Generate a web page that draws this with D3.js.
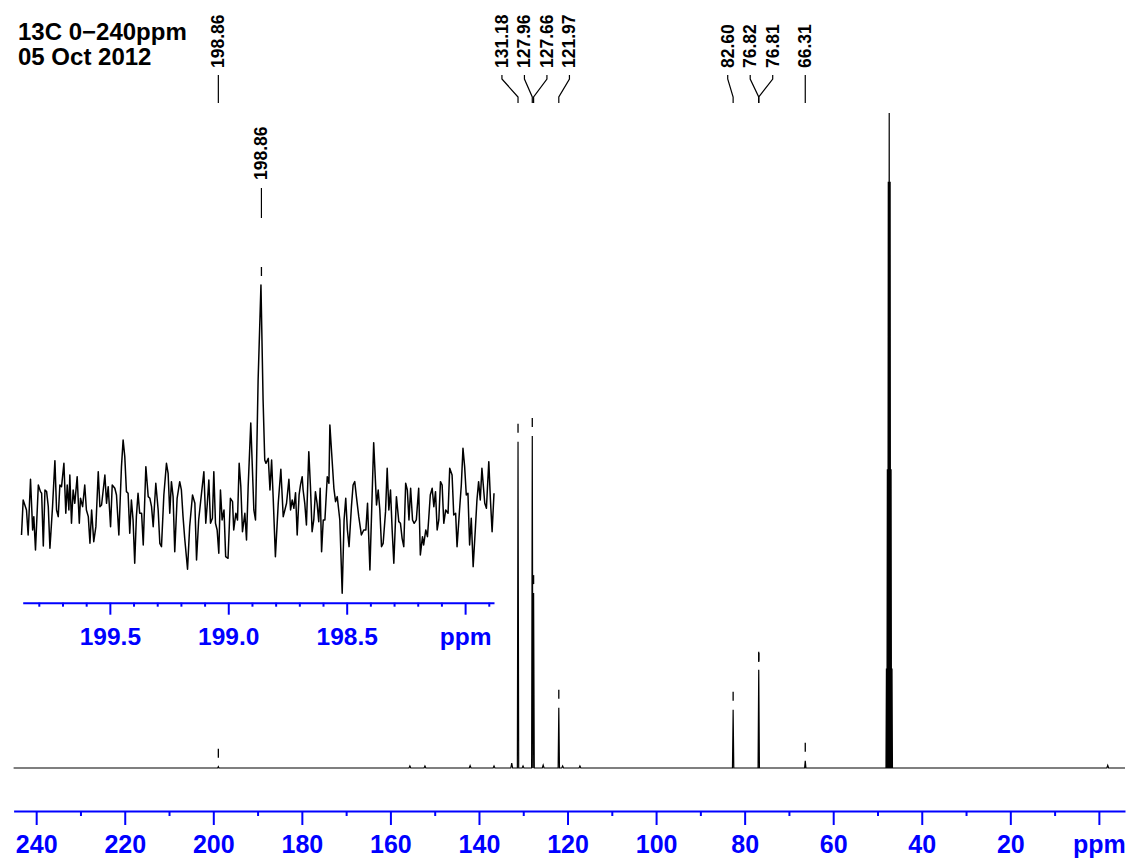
<!DOCTYPE html>
<html>
<head>
<meta charset="utf-8" />
<title>13C 0-240ppm</title>
<script src="https://d3js.org/d3.v7.min.js"></script>
<style>
  body { margin: 0; background: #fff; }
  svg { display: block; font-family: "Liberation Sans", Arial, Helvetica, sans-serif; }
  .lbl { font-size: 17.5px; font-weight: bold; fill: #000; }
</style>
</head>
<body>
<svg id="chart" width="1129" height="859"></svg>
<script>
// picked peaks (ppm) and heights (% of tallest line)
var peakPpm = [198.86, 131.18, 127.96, 127.66, 121.97, 82.60, 76.82, 76.81, 66.31];
var peakHeight = [0.2, 49.8, 50.7, 26.7, 9.2, 8.9, 15.0, 14.8, 1.1];

// solvent septet (not picked)
var solventPpm = [47.98, 47.77, 47.56, 47.35, 47.14, 46.93, 46.72];
var solventHeight = [15.2, 45.6, 89.5, 100, 89.5, 45.6, 15.2];

// little baseline bumps
var bumpPpm = [155.6, 152.2, 142.0, 136.6, 132.6, 130.05, 125.5, 121.1, 117.2, -2.0];
var bumpHeight = [0.3, 0.3, 0.35, 0.3, 0.76, 0.3, 0.45, 0.3, 0.3, 0.4];

// axis ticks
var axisMajor = [240, 220, 200, 180, 160, 140, 120, 100, 80, 60, 40, 20, 0];
var axisMinor = [230, 210, 190, 170, 150, 130, 110, 90, 70, 50, 30, 10];
var insetMajor = [199.5, 199.0, 198.5, 198.0];
var insetMinor = [199.8, 199.7, 199.6, 199.4, 199.3, 199.2, 199.1, 198.9, 198.8, 198.7, 198.6,
                  198.4, 198.3, 198.2, 198.1, 197.9];

// inset: expansion around 198.86 ppm, [ppm, intensity (arb.)]
var insetTrace = [
  [199.873, -8.0], [199.866, 2.5], [199.859, 1.0], [199.852, -0.5], [199.845, -8.0], [199.835, 8.7],
  [199.826, -6.5], [199.821, -2.5], [199.814, -12.5], [199.802, 7.0], [199.793, 5.0], [199.788, 4.5],
  [199.781, -11.3], [199.774, 5.5], [199.767, 5.0], [199.760, 0.5], [199.753, -12.0], [199.742, 0.5],
  [199.732, 14.3], [199.725, -0.5], [199.718, -2.5], [199.711, 7.0], [199.704, 6.5], [199.694, 13.5],
  [199.686, -1.5], [199.680, 7.0], [199.673, -0.5], [199.669, 10.0], [199.662, -4.5], [199.655, 5.5],
  [199.648, 1.5], [199.638, 9.5], [199.629, -4.5], [199.624, 3.0], [199.615, 0.5], [199.606, 7.0],
  [199.599, -0.5], [199.591, -2.5], [199.584, -10.5], [199.577, -0.5], [199.568, -10.0], [199.559, -5.5],
  [199.549, 11.0], [199.542, 0.5], [199.535, 1.0], [199.521, 10.0], [199.514, 1.5], [199.507, 6.5],
  [199.497, -5.5], [199.490, 7.0], [199.479, 6.0], [199.472, 4.0], [199.462, -8.0], [199.451, 12.5],
  [199.444, 20.5], [199.437, 15.5], [199.430, 5.0], [199.423, 4.5], [199.416, -7.5], [199.409, 2.5],
  [199.402, -3.5], [199.395, -16.5], [199.388, -2.5], [199.381, 4.5], [199.374, -1.5], [199.366, -1.5],
  [199.359, -11.0], [199.348, 12.5], [199.338, 3.5], [199.331, 3.0], [199.324, 0.5], [199.317, -5.5],
  [199.306, 7.5], [199.296, -0.5], [199.289, -10.5], [199.282, -11.5], [199.272, 4.0], [199.261, 13.5],
  [199.254, 10.5], [199.247, -1.5], [199.240, 8.0], [199.233, 3.5], [199.226, -13.0], [199.216, 3.0],
  [199.205, 8.0], [199.198, 5.5], [199.191, -2.5], [199.184, -9.0], [199.172, -18.3], [199.163, -5.5],
  [199.151, 4.0], [199.141, 1.5], [199.134, -15.5], [199.125, -3.5], [199.113, 4.5], [199.103, 11.0],
  [199.095, -4.5], [199.089, 1.0], [199.082, 8.5], [199.075, -4.5], [199.067, -3.0], [199.061, 11.0],
  [199.054, -4.5], [199.047, -6.5], [199.040, -13.5], [199.033, 5.5], [199.026, -3.5], [199.018, -0.5],
  [199.011, -14.5], [199.001, -15.0], [198.991, 3.0], [198.982, 2.0], [198.977, -6.5], [198.968, -1.5],
  [198.961, -3.5], [198.954, 13.5], [198.947, 6.5], [198.940, -7.0], [198.930, -1.5], [198.923, -9.5],
  [198.916, 6.5], [198.905, 25.6], [198.892, -0.5], [198.885, -3.5], [198.874, 38.5], [198.862, 67.0],
  [198.853, 32.5], [198.846, 14.5], [198.841, 13.5], [198.831, 15.0], [198.824, 5.5], [198.817, 14.5],
  [198.810, 2.5], [198.801, -14.5], [198.789, 1.5], [198.778, 11.7], [198.768, -2.5], [198.761, -0.5],
  [198.754, 1.5], [198.744, 8.7], [198.737, -0.5], [198.730, 2.5], [198.723, 0.0], [198.716, 4.7],
  [198.709, -8.0], [198.701, 4.0], [198.695, 7.0], [198.688, 9.5], [198.684, 5.5], [198.677, 1.5],
  [198.670, -5.0], [198.660, 17.0], [198.653, 6.5], [198.646, -7.0], [198.639, -3.5], [198.632, 5.0],
  [198.625, 1.5], [198.618, -4.0], [198.612, 6.0], [198.606, -13.0], [198.599, -3.5], [198.592, -3.5],
  [198.582, 9.5], [198.575, 7.5], [198.571, 25.0], [198.554, 6.0], [198.547, 2.0], [198.540, 3.5],
  [198.529, -3.5], [198.519, -25.5], [198.511, -3.5], [198.504, 3.0], [198.497, -6.5], [198.490, -11.5],
  [198.480, 0.5], [198.473, 7.0], [198.466, 8.0], [198.459, 3.5], [198.449, -2.5], [198.438, -8.0],
  [198.428, -6.5], [198.419, -6.5], [198.412, 1.5], [198.402, -18.5], [198.386, 19.7], [198.374, 1.0],
  [198.367, 5.5], [198.360, -0.5], [198.353, -11.5], [198.346, -10.5], [198.336, -1.0], [198.329, 12.0],
  [198.322, -0.5], [198.315, 5.5], [198.308, -6.5], [198.301, -16.5], [198.290, 3.5], [198.280, -4.0],
  [198.273, -4.5], [198.266, -9.0], [198.259, -11.5], [198.251, 7.5], [198.244, 5.5], [198.237, -3.5],
  [198.230, 6.0], [198.222, -3.5], [198.215, -4.5], [198.206, -3.5], [198.196, 6.0], [198.189, -14.0],
  [198.180, -8.5], [198.175, -11.0], [198.166, -6.5], [198.159, -8.5], [198.154, -3.5], [198.147, 4.0],
  [198.139, 6.0], [198.132, 0.5], [198.125, 5.0], [198.118, -6.5], [198.111, -3.5], [198.104, 8.0],
  [198.097, 7.0], [198.090, -4.5], [198.082, -0.5], [198.072, -1.5], [198.065, 12.0], [198.055, 10.0],
  [198.048, -2.0], [198.040, -1.5], [198.034, -11.5], [198.023, 0.0], [198.016, 7.0], [198.009, 18.0],
  [198.002, 12.5], [197.995, 4.0], [197.988, 4.5], [197.981, -11.0], [197.974, -3.0], [197.966, -17.5],
  [197.957, -6.5], [197.950, 2.5], [197.943, 8.0], [197.936, 2.5], [197.929, 12.0], [197.917, 1.5],
  [197.910, 0.0], [197.900, 14.0], [197.893, 2.5], [197.886, -7.0], [197.878, 4.5]
];
var insetPeak = 198.86;

var titleLines = ["13C 0\u2212240ppm", "05 Oct 2012"];

var svg = d3.select("#chart");
var blue = "#0000ff";

// scales
var x = d3.scaleLinear().domain([245.1, -5.9]).range([13.6, 1125]);
var y = d3.scaleLinear().domain([0, 100]).range([768, 113]);
var xi = d3.scaleLinear().domain([199.868, 197.878]).range([22.7, 494]);
var yi = d3.scaleLinear().domain([0, 67]).range([508.3, 285]);

// title
svg.selectAll(".title").data(titleLines).enter().append("text")
  .attr("class", "title")
  .attr("x", 18)
  .attr("y", function (d, i) { return 40 + i * 25; })
  .style("font-size", "24px").style("font-weight", "bold")
  .text(function (d) { return d; });

// build main spectrum as stick lines on a flat baseline
var lines = [];
peakPpm.forEach(function (p, i) { lines.push({ ppm: p, h: peakHeight[i], w: 0.15 }); });
solventPpm.forEach(function (p, i) { lines.push({ ppm: p, h: solventHeight[i], w: 0.1 }); });
bumpPpm.forEach(function (p, i) { lines.push({ ppm: p, h: bumpHeight[i], w: 0.2 }); });
lines.sort(function (a, b) { return b.ppm - a.ppm; });

var pts = [[x.domain()[0], 0]];
lines.forEach(function (l) {
  pts.push([l.ppm + l.w, 0], [l.ppm, l.h], [l.ppm - l.w, 0]);
});
pts.push([x.domain()[1], 0]);

var line = d3.line()
  .x(function (d) { return x(d[0]); })
  .y(function (d) { return y(d[1]); });

svg.append("path")
  .attr("d", line(pts))
  .attr("fill", "none")
  .attr("stroke", "#000")
  .attr("stroke-width", 1.2);

// peak-pick markers
svg.selectAll(".mark").data(peakPpm).enter().append("line")
  .attr("x1", function (d) { return x(d); })
  .attr("x2", function (d) { return x(d); })
  .attr("y1", function (d, i) { return y(peakHeight[i]) - 18; })
  .attr("y2", function (d, i) { return y(peakHeight[i]) - 9; })
  .attr("stroke", "#000").attr("stroke-width", 1.3);

// spread labels so they don't overlap
function spread(xs, gap) {
  var groups = xs.map(function (v) { return { sum: v, n: 1 }; });
  var merged = true;
  while (merged) {
    merged = false;
    for (var i = 0; i < groups.length - 1; i++) {
      var a = groups[i], b = groups[i + 1];
      var aEnd = a.sum / a.n + (a.n - 1) * gap / 2;
      var bStart = b.sum / b.n - (b.n - 1) * gap / 2;
      if (bStart - aEnd < gap) {
        a.sum += b.sum; a.n += b.n;
        groups.splice(i + 1, 1);
        merged = true;
        break;
      }
    }
  }
  var out = [];
  groups.forEach(function (g) {
    var c = g.sum / g.n;
    for (var k = 0; k < g.n; k++) out.push(c + (k - (g.n - 1) / 2) * gap);
  });
  return out;
}

var peakX = peakPpm.map(function (p) { return x(p); });
var labelX = spread(peakX, 22.5);

var lab = svg.append("g");
peakPpm.forEach(function (p, i) {
  var lx = labelX[i], px = peakX[i];
  lab.append("text").attr("class", "lbl")
    .attr("transform", "translate(" + (lx + 6) + ",68) rotate(-90)")
    .text(p.toFixed(2));
  lab.append("path")
    .attr("d", "M" + lx + ",75 L" + lx + ",79 L" + px + ",97 L" + px + ",103")
    .attr("fill", "none").attr("stroke", "#000").attr("stroke-width", 1.2);
});

// main axis
var axisY = 811;
var ax = svg.append("g").attr("transform", "translate(0," + axisY + ")")
  .call(d3.axisBottom(x).tickValues(axisMajor).tickSize(14).tickSizeOuter(0).tickPadding(10)
    .tickFormat(function (d) { return d === 0 ? "ppm" : d; }));
svg.append("g").attr("transform", "translate(0," + axisY + ")")
  .call(d3.axisBottom(x).tickValues(axisMinor).tickSize(5).tickSizeOuter(0).tickFormat(""))
  .select(".domain").remove();

// inset trace
var il = d3.line()
  .x(function (d) { return xi(d[0]); })
  .y(function (d) { return yi(d[1]); });
svg.append("path")
  .attr("d", il(insetTrace))
  .attr("fill", "none")
  .attr("stroke", "#000")
  .attr("stroke-width", 1.5)
  .attr("stroke-linejoin", "round");

var ipx = xi(insetPeak);
svg.append("line")
  .attr("x1", ipx).attr("x2", ipx)
  .attr("y1", yi(67) - 18).attr("y2", yi(67) - 9)
  .attr("stroke", "#000").attr("stroke-width", 1.3);
svg.append("text").attr("class", "lbl")
  .attr("transform", "translate(" + (ipx + 6) + ",180) rotate(-90)")
  .text(insetPeak.toFixed(2));
svg.append("path")
  .attr("d", "M" + ipx + ",188 L" + ipx + ",218")
  .attr("stroke", "#000").attr("stroke-width", 1.2);

// inset axis
var insetAxisY = 602.7;
var iax = svg.append("g").attr("transform", "translate(0," + insetAxisY + ")")
  .call(d3.axisBottom(xi).tickValues(insetMajor).tickSize(12).tickSizeOuter(0).tickPadding(13)
    .tickFormat(function (d) { return d === 198.0 ? "ppm" : d.toFixed(1); }));
svg.append("g").attr("transform", "translate(0," + insetAxisY + ")")
  .call(d3.axisBottom(xi).tickValues(insetMinor).tickSize(4).tickSizeOuter(0).tickFormat(""))
  .select(".domain").remove();

// blue styling for both axes
svg.selectAll(".domain, .tick line").attr("stroke", blue).attr("stroke-width", 2);
ax.selectAll(".tick text").attr("fill", blue).style("font-size", "25px").style("font-weight", "bold")
  .style("font-family", "'Liberation Sans', Arial, sans-serif");
iax.selectAll(".tick text").attr("fill", blue).style("font-size", "24.5px").style("font-weight", "bold")
  .style("font-family", "'Liberation Sans', Arial, sans-serif");
</script>
</body>
</html>
